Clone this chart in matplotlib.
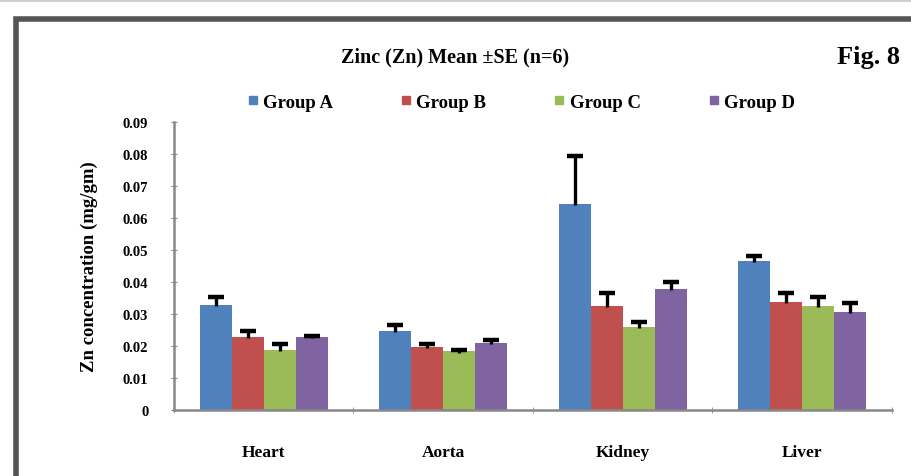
import numpy as np
import matplotlib
matplotlib.use("Agg")
import matplotlib.pyplot as plt
from matplotlib.lines import Line2D

# Zinc concentration per organ, mean and standard error (n=6)
organs = ["Heart", "Aorta", "Kidney", "Liver"]
groups = ["Group A", "Group B", "Group C", "Group D"]
group_a = [0.033, 0.0247, 0.0644, 0.0466]
group_b = [0.0228, 0.0197, 0.0325, 0.0338]
group_c = [0.0188, 0.0184, 0.0260, 0.0325]
group_d = [0.0228, 0.0210, 0.0380, 0.0306]
se_a = [0.0025, 0.0020, 0.0150, 0.0015]
se_b = [0.0020, 0.0010, 0.0040, 0.0028]
se_c = [0.0018, 0.0005, 0.0015, 0.0028]
se_d = [0.0004, 0.0010, 0.0020, 0.0030]
y_ticks = [0, 0.01, 0.02, 0.03, 0.04, 0.05, 0.06, 0.07, 0.08, 0.09]

colors = ["#4F81BD", "#C0504D", "#9BBB59", "#8064A2"]
serif = ["Liberation Serif", "DejaVu Serif"]

fig = plt.figure(figsize=(9.11, 4.77), dpi=100)
ax = fig.add_axes([0.191, 0.138, 0.788, 0.604])

x = np.arange(len(organs))
width = 0.178
means = [group_a, group_b, group_c, group_d]
errs = [se_a, se_b, se_c, se_d]
for i, (vals, err) in enumerate(zip(means, errs)):
    pos = x + (i - 1.5) * width
    vals = np.array(vals)
    err = np.array(err)
    ax.bar(pos, vals, width=width, color=colors[i], zorder=2)
    # plus-only error bars: stem from the bar top, cap at the upper end
    ax.vlines(pos, vals - 0.0004, vals + err, color="black", linewidth=2.4, zorder=3)
    ax.plot(pos, vals + err, linestyle="none", marker="_", markersize=11,
            markeredgewidth=3.2, color="black", zorder=3)

ax.set_xlim(-0.5, 3.5)
ax.set_ylim(0, 0.09)
ax.set_yticks(y_ticks)
ax.set_yticklabels(["0" if v == 0 else f"{v:.2f}" for v in y_ticks],
                   fontfamily=serif, fontweight="bold", fontsize=10.5)
ax.set_xticks(x)
ax.set_xticklabels(organs, fontfamily=serif, fontweight="bold", fontsize=12.5)
ax.tick_params(axis="x", length=0, pad=24)
ax.set_xticks(np.arange(-0.5, 4.0, 1.0), minor=True)
ax.tick_params(axis="x", which="minor", length=5, color="#888888", direction="inout")
ax.tick_params(axis="y", length=5, color="#888888", direction="inout", pad=16)

for side in ["top", "right"]:
    ax.spines[side].set_visible(False)
for side in ["left", "bottom"]:
    ax.spines[side].set_color("#888888")
    ax.spines[side].set_linewidth(1.8)

ax.set_ylabel("Zn concentration (mg/gm)", fontfamily=serif, fontweight="bold",
              fontsize=13.5, labelpad=18)

handles = [Line2D([0], [0], marker="s", linestyle="none", markersize=6,
                  markerfacecolor=c, markeredgecolor=c) for c in colors]
fig.legend(handles, groups, loc="center", bbox_to_anchor=(0.572, 0.784), ncol=4,
           frameon=False, handlelength=0.6, handletextpad=0.25, columnspacing=3.6,
           prop={"family": serif, "weight": "bold", "size": 13.5})

fig.text(0.500, 0.880, "Zinc (Zn) Mean \u00b1SE (n=6)", ha="center", va="center",
         fontfamily=serif, fontweight="bold", fontsize=14.5)
fig.text(0.988, 0.880, "Fig. 8", ha="right", va="center",
         fontfamily=serif, fontweight="bold", fontsize=19)

# outer frame around the panel
fig.add_artist(Line2D([0.0, 1.0], [0.997, 0.997], transform=fig.transFigure,
                      color="#cccccc", linewidth=2))
fig.add_artist(Line2D([0.018, 0.018, 1.0], [0.0, 0.958, 0.958],
                      transform=fig.transFigure, color="#555555", linewidth=4,
                      solid_joinstyle="miter"))

fig.savefig("out.png", dpi=100)
